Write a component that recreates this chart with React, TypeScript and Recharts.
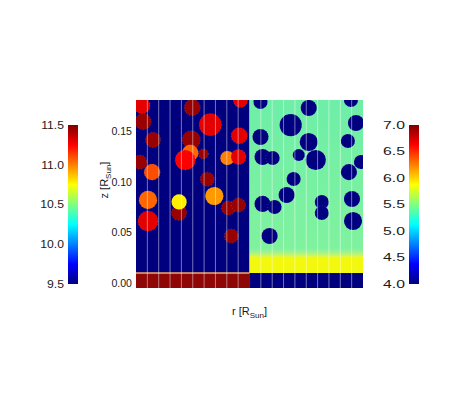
import React from 'react'
import { ScatterChart, BarChart, Bar, Scatter, XAxis, YAxis, ReferenceArea, ReferenceLine, Label } from 'recharts'

const FONT = '"Liberation Sans", Arial, Helvetica, sans-serif'

// axis + colour bar ticks
const zTicks = [0, 0.05, 0.1, 0.15]
const leftBarTicks = [9.5, 10, 10.5, 11, 11.5]
const rightBarTicks = [4, 4.5, 5, 5.5, 6, 6.5, 7]
const leftBarRange = [9.5, 11.5]
const rightBarRange = [4, 7]

// cell boundaries along r (cell units, 10 cells per half)
const cellLines = [1, 2, 3, 4, 5, 6, 7, 8, 9, 11, 12, 13, 14, 15, 16, 17, 18, 19]

// layer boundaries in z [R_sun]
const stripTop = 0.0101
const bandTop = 0.026
const Z_MIN = -0.0047
const Z_MAX = 0.1814

// left half blobs: x (cell), z, radius (R_sun), colour-bar value
const hotBlobs = [
  { x: 0.53, z: 0.176, r: 0.008, v: 11.3 },
  { x: 0.62, z: 0.16, r: 0.008, v: 11.45 },
  { x: 4.96, z: 0.174, r: 0.008, v: 11.45 },
  { x: 9.2, z: 0.181, r: 0.007, v: 11.3 },
  { x: 1.5, z: 0.142, r: 0.0075, v: 11.45 },
  { x: 6.55, z: 0.157, r: 0.011, v: 11.3 },
  { x: 4.87, z: 0.142, r: 0.009, v: 11.45 },
  { x: 9.1, z: 0.146, r: 0.008, v: 11.3 },
  { x: 5.93, z: 0.128, r: 0.005, v: 11.45 },
  { x: 4.78, z: 0.129, r: 0.008, v: 11.05 },
  { x: 4.34, z: 0.122, r: 0.01, v: 11.25 },
  { x: 8.05, z: 0.124, r: 0.007, v: 11.0 },
  { x: 9.03, z: 0.125, r: 0.0075, v: 11.3 },
  { x: 0.35, z: 0.12, r: 0.007, v: 11.45 },
  { x: 1.42, z: 0.11, r: 0.008, v: 11.1 },
  { x: 6.28, z: 0.103, r: 0.007, v: 11.45 },
  { x: 1.06, z: 0.0825, r: 0.009, v: 11.05 },
  { x: 3.8, z: 0.0696, r: 0.0075, v: 11.45 },
  { x: 3.8, z: 0.0805, r: 0.0075, v: 10.78 },
  { x: 6.9, z: 0.0864, r: 0.009, v: 10.95 },
  { x: 8.14, z: 0.0745, r: 0.007, v: 11.45 },
  { x: 9.03, z: 0.0775, r: 0.007, v: 11.45 },
  { x: 1.06, z: 0.0616, r: 0.01, v: 11.3 },
  { x: 8.4, z: 0.0468, r: 0.007, v: 11.45 },
]

// right half blobs
const coolBlobs = [
  { x: 10.97, z: 0.1794, r: 0.007, v: 4.0 },
  { x: 15.22, z: 0.1735, r: 0.008, v: 4.0 },
  { x: 18.94, z: 0.1814, r: 0.007, v: 4.0 },
  { x: 13.63, z: 0.1566, r: 0.011, v: 4.0 },
  { x: 19.38, z: 0.1586, r: 0.008, v: 4.0 },
  { x: 10.97, z: 0.1448, r: 0.008, v: 4.0 },
  { x: 15.22, z: 0.1398, r: 0.009, v: 4.0 },
  { x: 18.67, z: 0.1408, r: 0.007, v: 4.0 },
  { x: 11.15, z: 0.125, r: 0.008, v: 4.0 },
  { x: 12.04, z: 0.124, r: 0.007, v: 4.0 },
  { x: 14.34, z: 0.127, r: 0.006, v: 4.0 },
  { x: 15.84, z: 0.122, r: 0.01, v: 4.0 },
  { x: 18.76, z: 0.11, r: 0.008, v: 4.0 },
  { x: 19.82, z: 0.12, r: 0.007, v: 4.0 },
  { x: 13.89, z: 0.1032, r: 0.007, v: 4.0 },
  { x: 13.27, z: 0.0874, r: 0.008, v: 4.0 },
  { x: 11.15, z: 0.0785, r: 0.008, v: 4.0 },
  { x: 12.21, z: 0.0755, r: 0.007, v: 4.0 },
  { x: 16.37, z: 0.0804, r: 0.007, v: 4.0 },
  { x: 16.37, z: 0.0696, r: 0.007, v: 4.0 },
  { x: 19.03, z: 0.0834, r: 0.008, v: 4.0 },
  { x: 19.12, z: 0.0616, r: 0.009, v: 4.0 },
  { x: 11.77, z: 0.0468, r: 0.008, v: 4.0 },
]

const PLOT_H = 188
const PX_PER_Z = PLOT_H / (Z_MAX - Z_MIN)

const clamp = (t: number) => Math.max(0, Math.min(1, t))
const hex = (c: number) => Math.round(clamp(c) * 255).toString(16).padStart(2, '0')
function jet(v: number, lo: number, hi: number) {
  const t = clamp((v - lo) / (hi - lo))
  const r = 1.5 - Math.abs(4 * t - 3)
  const g = 1.5 - Math.abs(4 * t - 2)
  const b = 1.5 - Math.abs(4 * t - 1)
  return `#${hex(r)}${hex(g)}${hex(b)}`
}
const jetStops = [1, 0.875, 0.625, 0.5, 0.375, 0.125, 0]

const blobShape = (lo: number, hi: number) => (props: any) => (
  <circle
    cx={props.cx}
    cy={props.cy}
    r={props.payload.r * PX_PER_Z}
    fill={jet(props.payload.v, lo, hi)}
    stroke="#ffffff"
    strokeOpacity={0.3}
    strokeWidth={0.6}
    strokeDasharray="1 2"
  />
)

const StretchTick = ({ x, y, payload, digits, size, sx }: any) => (
  <g transform={`translate(${x},${y}) scale(${sx},1)`}>
    <text x={0} y={0} dy="0.36em" textAnchor="end" fontSize={size} fontFamily={FONT} fill="#1a1a1a">
      {Number(payload.value).toFixed(digits)}
    </text>
  </g>
)

const xTitle = ({ viewBox }: any) => {
  const x = viewBox.x + viewBox.width / 2
  const y = viewBox.y + 27
  return (
    <text x={x} y={y} textAnchor="middle" fontSize={11} fontFamily={FONT} fill="#1a1a1a">
      r [R<tspan fontSize={8} dy={3}>Sun</tspan><tspan dy={-3}>]</tspan>
    </text>
  )
}

const zTitle = ({ viewBox }: any) => {
  const x = viewBox.x + 8
  const y = viewBox.y + viewBox.height / 2 - 14
  return (
    <text x={x} y={y} transform={`rotate(-90 ${x} ${y})`} textAnchor="middle" fontSize={11} fontFamily={FONT} fill="#1a1a1a">
      z [R<tspan fontSize={8} dy={3}>Sun</tspan><tspan dy={-3}>]</tspan>
    </text>
  )
}

function ColorBar({ left, ticks, range, sx }: { left: number; ticks: number[]; range: number[]; sx: number }) {
  const data = [{ name: 'scale', span: range }]
  return (
    <div style={{ position: 'absolute', left, top: 113, width: 60, height: 182 }}>
      <BarChart width={60} height={182} data={data} margin={{ top: 12, right: 2, bottom: 11, left: 0 }} barCategoryGap={0}>
        <XAxis dataKey="name" hide />
        <YAxis
          type="number"
          domain={range}
          ticks={ticks}
          width={48}
          axisLine={false}
          tickLine={false}
          tickSize={0}
          tickMargin={4}
          tick={<StretchTick digits={1} size={10.5} sx={sx} />}
        />
        <Bar dataKey="span" fill="url(#jetbar)" isAnimationActive={false} />
      </BarChart>
    </div>
  )
}

export default function App() {
  return (
    <div style={{ position: 'absolute', left: 0, top: 0, width: 454, height: 410, background: '#fff' }}>
      <svg width={0} height={0} style={{ position: 'absolute' }}>
        <defs>
          <linearGradient id="jetbar" x1="0" y1="0" x2="0" y2="1">
            {jetStops.map((t) => (
              <stop key={t} offset={1 - t} stopColor={jet(t, 0, 1)} />
            ))}
          </linearGradient>
          <linearGradient id="mint" x1="0" y1="0" x2="0" y2="1">
            <stop offset={0} stopColor="#6eeea8" />
            <stop offset={0.945} stopColor="#80f29e" />
            <stop offset={0.975} stopColor="#a8f488" />
            <stop offset={1} stopColor="#e4f73a" />
          </linearGradient>
        </defs>
      </svg>
      <ScatterChart width={454} height={410} margin={{ top: 100, right: 91, bottom: 82, left: 100 }}>
        <XAxis type="number" dataKey="x" domain={[0, 20]} allowDataOverflow tick={false} tickLine={false} axisLine={false} height={40}>
          <Label content={xTitle} />
        </XAxis>
        <YAxis
          type="number"
          dataKey="z"
          domain={[Z_MIN, Z_MAX]}
          allowDataOverflow
          ticks={zTicks}
          width={36}
          axisLine={false}
          tickLine={false}
          tickSize={0}
          tickMargin={4}
          tick={<StretchTick digits={2} size={10} sx={1.06} />}
        >
          <Label content={zTitle} />
        </YAxis>
        <ReferenceArea x1={0} x2={10} y1={Z_MIN} y2={Z_MAX} fill="#00007f" fillOpacity={1} stroke="none" />
        <ReferenceArea x1={10} x2={20} y1={bandTop} y2={Z_MAX} fill="url(#mint)" fillOpacity={1} stroke="none" />
        <ReferenceArea x1={10} x2={20} y1={stripTop} y2={bandTop} fill="#f2f80e" fillOpacity={1} stroke="none" />
        <ReferenceArea x1={0} x2={10} y1={Z_MIN} y2={stripTop} fill="#8e0606" fillOpacity={1} stroke="none" />
        <ReferenceArea x1={10} x2={20} y1={Z_MIN} y2={stripTop} fill="#00007f" fillOpacity={1} stroke="none" />
        <ReferenceLine
          segment={[{ x: 0, y: stripTop }, { x: 10, y: stripTop }]}
          stroke="#f5a866"
          strokeWidth={1.5}
        />
        <Scatter data={hotBlobs} shape={blobShape(9.5, 11.5)} isAnimationActive={false} />
        <Scatter data={coolBlobs} shape={blobShape(4, 7)} isAnimationActive={false} />
        {cellLines.map((c) => (
          <ReferenceLine key={c} x={c} stroke="#ffffff" strokeOpacity={0.45} strokeWidth={1} zIndex={700} />
        ))}
      </ScatterChart>
      <ColorBar left={20} ticks={leftBarTicks} range={leftBarRange} sx={1.16} />
      <ColorBar left={361} ticks={rightBarTicks} range={rightBarRange} sx={1.5} />
    </div>
  )
}
